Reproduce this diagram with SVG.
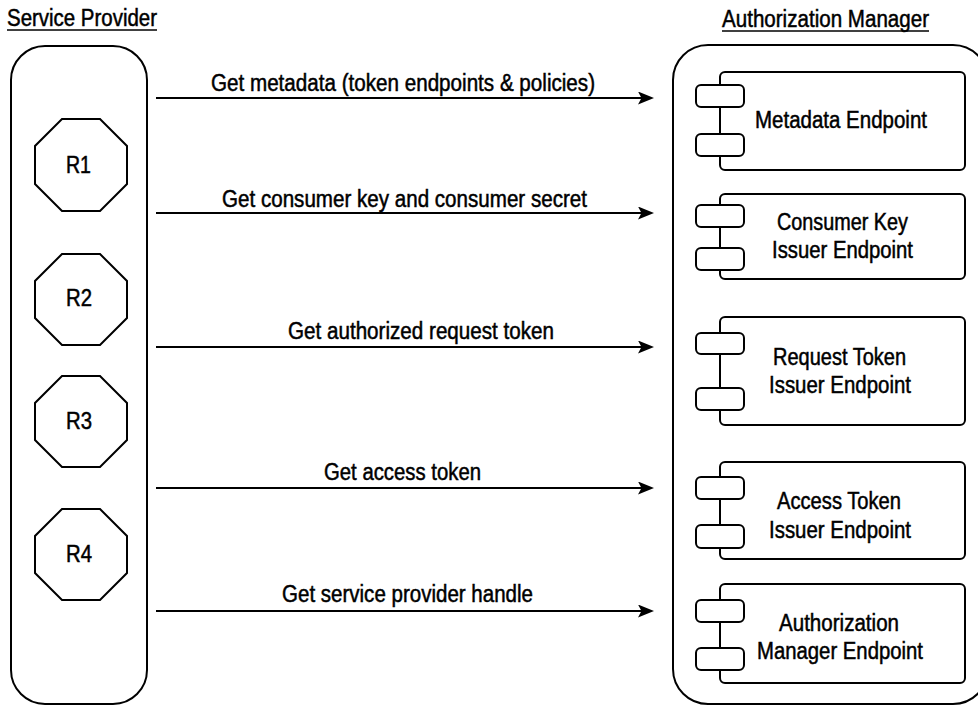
<svg xmlns="http://www.w3.org/2000/svg" width="978" height="706" viewBox="0 0 978 706">
<style>
  text { font-family: "Liberation Sans", Arial, sans-serif; font-size: 23.5px; fill: #000; stroke: #000; stroke-width: 0.5px; }
  .box { fill: #fff; stroke: #000; stroke-width: 2; }
  .port { fill: #fff; stroke: #000; stroke-width: 2; }
  .cont { fill: none; stroke: #000; stroke-width: 2; }
  .oct { fill: #fff; stroke: #000; stroke-width: 2; }
  .conn { stroke: #000; stroke-width: 2.2; fill: none; }
  .ul { stroke: #000; stroke-width: 1.6; }
</style>
<defs>
  <marker id="arr" viewBox="0 0 16 13" refX="8" refY="6.5" markerWidth="16" markerHeight="13" markerUnits="userSpaceOnUse" orient="auto">
    <path d="M0,0 L16,6.5 L0,13 L3.5,6.5 z" fill="#000"/>
  </marker>
</defs>
<rect width="978" height="706" fill="#fff"/>

<g id="service-provider">
  <text x="7" y="26" textLength="150" lengthAdjust="spacingAndGlyphs">Service Provider</text>
  <line class="ul" x1="7" y1="30" x2="157" y2="30"/>
  <rect class="cont" x="11" y="46" width="136" height="658" rx="34" ry="34"/>
</g>

<g id="authorization-manager">
  <text x="722" y="27" textLength="207" lengthAdjust="spacingAndGlyphs">Authorization Manager</text>
  <line class="ul" x1="722" y1="31" x2="929" y2="31"/>
  <rect class="cont" x="673" y="45" width="315" height="659" rx="35" ry="35"/>
</g>

<g id="R1">
  <polygon class="oct" points="62,119 100,119 127,146 127,184 100,211 62,211 35,184 35,146"/>
  <text x="66" y="173" textLength="25" lengthAdjust="spacingAndGlyphs">R1</text>
</g>
<g id="R2">
  <polygon class="oct" points="62,254 100,254 127,281 127,318 100,345 62,345 35,318 35,281"/>
  <text x="66" y="306" textLength="26" lengthAdjust="spacingAndGlyphs">R2</text>
</g>
<g id="R3">
  <polygon class="oct" points="62,376 100,376 127,403 127,440 100,467 62,467 35,440 35,403"/>
  <text x="66" y="429" textLength="26" lengthAdjust="spacingAndGlyphs">R3</text>
</g>
<g id="R4">
  <polygon class="oct" points="62,509 100,509 127,536 127,573 100,600 62,600 35,573 35,536"/>
  <text x="66" y="562" textLength="26" lengthAdjust="spacingAndGlyphs">R4</text>
</g>

<g id="metadata-endpoint">
  <rect class="box" x="720" y="72" width="245" height="98" rx="5"/>
  <rect class="port" x="696" y="85" width="48" height="22" rx="5"/>
  <rect class="port" x="696" y="134" width="48" height="22" rx="5"/>
  <text x="755" y="128" textLength="172" lengthAdjust="spacingAndGlyphs">Metadata Endpoint</text>
</g>
<g id="consumer-key-issuer-endpoint">
  <rect class="box" x="720" y="194" width="245" height="85" rx="5"/>
  <rect class="port" x="696" y="205" width="48" height="22" rx="5"/>
  <rect class="port" x="696" y="248" width="48" height="22" rx="5"/>
  <text x="777" y="230" textLength="131" lengthAdjust="spacingAndGlyphs">Consumer Key</text>
  <text x="772" y="258" textLength="141" lengthAdjust="spacingAndGlyphs">Issuer Endpoint</text>
</g>
<g id="request-token-issuer-endpoint">
  <rect class="box" x="720" y="317" width="245" height="108" rx="5"/>
  <rect class="port" x="696" y="333" width="48" height="21" rx="5"/>
  <rect class="port" x="696" y="388" width="48" height="22" rx="5"/>
  <text x="773" y="365" textLength="133" lengthAdjust="spacingAndGlyphs">Request Token</text>
  <text x="769" y="393" textLength="142" lengthAdjust="spacingAndGlyphs">Issuer Endpoint</text>
</g>
<g id="access-token-issuer-endpoint">
  <rect class="box" x="720" y="462" width="245" height="97" rx="5"/>
  <rect class="port" x="696" y="477" width="48" height="22" rx="5"/>
  <rect class="port" x="696" y="525" width="48" height="23" rx="5"/>
  <text x="777" y="509" textLength="124" lengthAdjust="spacingAndGlyphs">Access Token</text>
  <text x="769" y="538" textLength="142" lengthAdjust="spacingAndGlyphs">Issuer Endpoint</text>
</g>
<g id="authorization-manager-endpoint">
  <rect class="box" x="720" y="584" width="245" height="99" rx="5"/>
  <rect class="port" x="696" y="600" width="48" height="22" rx="5"/>
  <rect class="port" x="696" y="648" width="48" height="22" rx="5"/>
  <text x="779" y="631" textLength="120" lengthAdjust="spacingAndGlyphs">Authorization</text>
  <text x="757" y="659" textLength="166" lengthAdjust="spacingAndGlyphs">Manager Endpoint</text>
</g>

<g id="connectors">
  <line class="conn" x1="156" y1="98" x2="646" y2="98" marker-end="url(#arr)"/>
  <text x="211" y="91" textLength="384" lengthAdjust="spacingAndGlyphs">Get metadata (token endpoints &amp; policies)</text>
  <line class="conn" x1="156" y1="213" x2="646" y2="213" marker-end="url(#arr)"/>
  <text x="222" y="207" textLength="365" lengthAdjust="spacingAndGlyphs">Get consumer key and consumer secret</text>
  <line class="conn" x1="156" y1="347" x2="646" y2="347" marker-end="url(#arr)"/>
  <text x="288" y="339" textLength="266" lengthAdjust="spacingAndGlyphs">Get authorized request token</text>
  <line class="conn" x1="156" y1="488" x2="646" y2="488" marker-end="url(#arr)"/>
  <text x="324" y="480" textLength="157" lengthAdjust="spacingAndGlyphs">Get access token</text>
  <line class="conn" x1="156" y1="611" x2="646" y2="611" marker-end="url(#arr)"/>
  <text x="282" y="602" textLength="251" lengthAdjust="spacingAndGlyphs">Get service provider handle</text>
</g>
</svg>
